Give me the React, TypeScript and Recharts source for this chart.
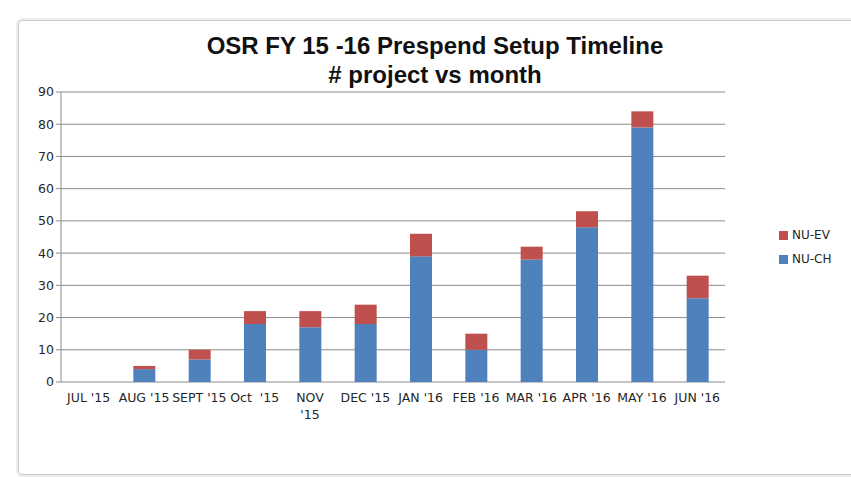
import React from "react";
import { BarChart, Bar, XAxis, YAxis, CartesianGrid } from "recharts";

const months = ["JUL '15", "AUG '15", "SEPT '15", "Oct  '15", "NOV\n'15", "DEC '15", "JAN '16", "FEB '16", "MAR '16", "APR '16", "MAY '16", "JUN '16"];
const nuCh = [0, 4, 7, 18, 17, 18, 39, 10, 38, 48, 79, 26];
const nuEv = [0, 1, 3, 4, 5, 6, 7, 5, 4, 5, 5, 7];
const yTicks = [0, 10, 20, 30, 40, 50, 60, 70, 80, 90];
const boundaries = [0, 1, 2, 3, 4, 5, 6, 7, 8, 9, 10, 11, 12];

const data = months.map((m, i) => ({ month: m, "NU-CH": nuCh[i], "NU-EV": nuEv[i] }));

const BLUE = "#4F81BD";
const RED = "#C0504D";
const tickFont = { fontFamily: "DejaVu Sans, Verdana, sans-serif", fontSize: 12.5, fill: "#262626" };

const MonthTick = (props: any) => {
  const { x, y, payload } = props;
  const lines = String(payload.value).split("\n");
  return (
    <text x={x} y={y + 12} textAnchor="middle" {...tickFont} style={{ whiteSpace: "pre" }}>
      {lines.map((l, i) => (
        <tspan key={i} x={x} dy={i === 0 ? 0 : 17}>{l}</tspan>
      ))}
    </text>
  );
};

const NoLabel = () => <g />;

const App = () => {
  return (
    <div style={{ position: "absolute", left: 0, top: 0, width: 851, height: 477, background: "#fff", overflow: "hidden" }}>
      <div style={{ position: "absolute", left: 18, top: 20, width: 840, height: 453, border: "1px solid #c8c8c8", borderRadius: 4, boxShadow: "0 0 0 2px #eee" }} />
      <div style={{ position: "absolute", left: 0, top: 31, width: 870, textAlign: "center", fontFamily: "Liberation Sans, Arial, sans-serif", fontWeight: "bold", fontSize: 24, lineHeight: "29px", color: "#111" }}>
        OSR FY 15 -16 Prespend Setup Timeline
        <br /># project vs month
      </div>
      <div style={{ position: "absolute", left: 0, top: 0 }}>
        <BarChart width={851} height={477} data={data} margin={{ top: 92, right: 126, bottom: 55, left: 25 }}>
          <CartesianGrid vertical={false} stroke="#8c8c8c" />
          <XAxis xAxisId="b" type="number" domain={[0, 12]} ticks={boundaries} interval={0} height={0} tick={<NoLabel />} tickSize={6} tickLine={{ stroke: "#8c8c8c" }} axisLine={{ stroke: "#8c8c8c" }} />
          <XAxis dataKey="month" interval={0} height={40} tick={<MonthTick />} tickLine={false} axisLine={false} />
          <YAxis width={36} domain={[0, 90]} ticks={yTicks} interval={0} tick={tickFont} tickSize={5} tickLine={{ stroke: "#8c8c8c" }} axisLine={{ stroke: "#8c8c8c" }} />
          <Bar dataKey="NU-CH" stackId="a" fill={BLUE} barSize={22} isAnimationActive={false} />
          <Bar dataKey="NU-EV" stackId="a" fill={RED} barSize={22} isAnimationActive={false} />
        </BarChart>
      </div>
      <div style={{ position: "absolute", left: 779, top: 223, fontFamily: "DejaVu Sans, Verdana, sans-serif", fontSize: 12, color: "#262626" }}>
        {[{ name: "NU-EV", color: RED }, { name: "NU-CH", color: BLUE }].map((item) => (
          <div key={item.name} style={{ display: "flex", alignItems: "center", height: 24 }}>
            <span style={{ width: 9, height: 9, background: item.color, marginRight: 4 }} />
            {item.name}
          </div>
        ))}
      </div>
    </div>
  );
};

export default App;
